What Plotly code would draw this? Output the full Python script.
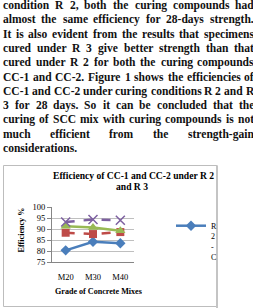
import plotly.graph_objects as go

# ---------------- data ----------------
categories = ["M20", "M30", "M40"]
r2_cc1 = [80.3, 84.2, 83.5]
r2_cc2 = [88.3, 87.7, 88.6]
r3_cc1 = [91.2, 90.7, 89.2]
r3_cc2 = [93.2, 94.3, 94.0]
y_ticks = [75, 80, 85, 90, 95, 100]

chart_title_1 = "Efficiency of CC-1 and CC-2 under R 2"
chart_title_2 = "and R 3"
x_title = "Grade of Concrete Mixes"
y_title = "Efficiency %"
legend_label = "R<br>2<br>-<br>C"

paragraph = [
    "condition R 2, both the curing compounds had",
    "almost the same efficiency for 28-days strength.",
    "It is also evident from the results that specimens",
    "cured under R 3 give better strength than that",
    "cured under R 2 for both the curing compounds",
    "CC-1 and CC-2. Figure 1 shows the efficiencies of",
    "CC-1 and CC-2 under curing conditions R 2 and R",
    "3 for 28 days. So it can be concluded that the",
    "curing of SCC mix with curing compounds is not",
    "much efficient from the strength-gain",
    "considerations.",
]

# ---------------- layout helpers ----------------
W, H = 253, 308
ML, MR, MT, MB = 52, 119, 207, 46
PW, PH = W - ML - MR, H - MT - MB


def px(x):
    return (x - ML) / PW


def py(y):
    return (H - MB - y) / PH


# Times-Bold advance widths (per 1000 em) for justification
TB = {" ": 250, ",": 250, ".": 250, "-": 333, "%": 1000,
      "A": 722, "B": 667, "C": 722, "D": 722, "E": 667, "F": 611, "G": 778, "H": 778,
      "I": 389, "J": 500, "K": 778, "L": 667, "M": 944, "N": 722, "O": 778, "P": 611,
      "Q": 778, "R": 722, "S": 556, "T": 667, "U": 722, "V": 722, "W": 1000, "X": 722,
      "Y": 722, "Z": 667,
      "a": 500, "b": 556, "c": 444, "d": 556, "e": 444, "f": 333, "g": 500, "h": 556,
      "i": 278, "j": 333, "k": 556, "l": 278, "m": 833, "n": 556, "o": 500, "p": 556,
      "q": 556, "r": 444, "s": 389, "t": 333, "u": 556, "v": 500, "w": 722, "x": 500,
      "y": 500, "z": 444}
for d in "0123456789":
    TB[d] = 500


def tw(s, fs):
    return sum(TB.get(c, 500) for c in s) / 1000.0 * fs


serif = "Liberation Serif"
X0, X1 = 1.0, 252.0
fs_par = min((X1 - X0) / tw(line, 1.0) for line in paragraph[:-1])
fs_par = min(fs_par, 13.0)
LINE_Y0, LINE_DY = 5.6, 14.3
par_font = dict(family=serif, size=fs_par, color="#111111")

annotations = []
for i, line in enumerate(paragraph):
    yc = LINE_Y0 + i * LINE_DY
    words = line.split(" ")
    if i == len(paragraph) - 1:
        annotations.append(dict(text="<b>" + line + "</b>", x=px(X0), y=py(yc), xanchor="left",
                                yanchor="middle", showarrow=False, xref="paper", yref="paper",
                                font=par_font))
        continue
    widths = [tw(w, fs_par) for w in words]
    gap = (X1 - X0 - sum(widths)) / (len(words) - 1)
    x = X0
    for w, ww in zip(words, widths):
        annotations.append(dict(text="<b>" + w + "</b>", x=px(x), y=py(yc), xanchor="left",
                                yanchor="middle", showarrow=False, xref="paper", yref="paper",
                                font=par_font))
        x += ww + gap

# chart titles
annotations += [
    dict(text="<b>" + chart_title_1 + "</b>", x=px(133.3), y=py(175), xanchor="center", yanchor="middle",
         showarrow=False, xref="paper", yref="paper", font=dict(family=serif, size=9.6, color="black")),
    dict(text="<b>" + chart_title_2 + "</b>", x=px(131.7), y=py(186.5), xanchor="center", yanchor="middle",
         showarrow=False, xref="paper", yref="paper", font=dict(family=serif, size=9.6, color="black")),
    dict(text="<b>" + x_title + "</b>", x=px(98.8), y=py(291.7), xanchor="center", yanchor="middle",
         showarrow=False, xref="paper", yref="paper", font=dict(family=serif, size=8.1, color="black")),
    dict(text="<b>" + y_title + "</b>", x=px(21), y=py(230.5), xanchor="center", yanchor="middle",
         textangle=-90, showarrow=False, xref="paper", yref="paper",
         font=dict(family=serif, size=8.1, color="black")),
]

shapes = [
    dict(type="rect", xref="paper", yref="paper", x0=px(3.5), x1=px(217), y0=py(306.5), y1=py(165.5),
         line=dict(color="#BDBDBD", width=1), layer="below"),
    dict(type="line", xref="paper", yref="paper", x0=px(217), x1=px(217), y0=py(308), y1=py(165.5),
         line=dict(color="#C4C4C4", width=2)),
]

fig = go.Figure()
fig.add_trace(go.Scatter(x=categories, y=r2_cc1, name=legend_label, mode="lines+markers",
                         line=dict(color="#4A7EBB", width=2.5),
                         marker=dict(symbol="diamond", size=8, color="#4A7EBB")))
fig.add_trace(go.Scatter(x=categories, y=r2_cc2, name="R 2 - CC-2", mode="lines+markers", showlegend=False,
                         line=dict(color="#BE4B48", width=2.5, dash="dash"),
                         marker=dict(symbol="square", size=8, color="#BE4B48")))
fig.add_trace(go.Scatter(x=categories, y=r3_cc1, name="R 3 - CC-1", mode="lines+markers", showlegend=False,
                         line=dict(color="#98B954", width=2.5),
                         marker=dict(symbol="triangle-up", size=9, color="#98B954")))
fig.add_trace(go.Scatter(x=categories, y=r3_cc2, name="R 3 - CC-2", mode="lines+markers", showlegend=False,
                         line=dict(color="#7D60A0", width=2.5, dash="dash"),
                         marker=dict(symbol="x-thin-open", size=9, color="#7D60A0",
                                     line=dict(color="#7D60A0", width=1.5))))

fig.update_layout(
    width=W, height=H,
    margin=dict(l=ML, r=MR, t=MT, b=MB, pad=0, autoexpand=False),
    paper_bgcolor="white", plot_bgcolor="white",
    font=dict(family=serif, size=8.5, color="black"),
    showlegend=True,
    legend=dict(x=px(171), y=py(214), xanchor="left", yanchor="top", valign="top",
                font=dict(family=serif, size=8, color="black"), bgcolor="rgba(0,0,0,0)",
                itemwidth=30, tracegroupgap=0),
    annotations=annotations,
    shapes=shapes,
)
fig.update_xaxes(type="category", range=[-0.5, 2.5], showgrid=False, showline=True,
                 linecolor="#868686", linewidth=1, ticks="", ticklabelstandoff=7,
                 tickfont=dict(family=serif, size=8.5, color="black"), zeroline=False)
fig.update_yaxes(range=[75, 100], tickvals=y_ticks, showgrid=True, gridcolor="#BFBFBF", gridwidth=1,
                 showline=True, linecolor="#868686", linewidth=1, ticks="outside", ticklen=4,
                 tickcolor="#868686", tickfont=dict(family=serif, size=8.5, color="black"),
                 zeroline=False)

fig.write_html("out.html")
